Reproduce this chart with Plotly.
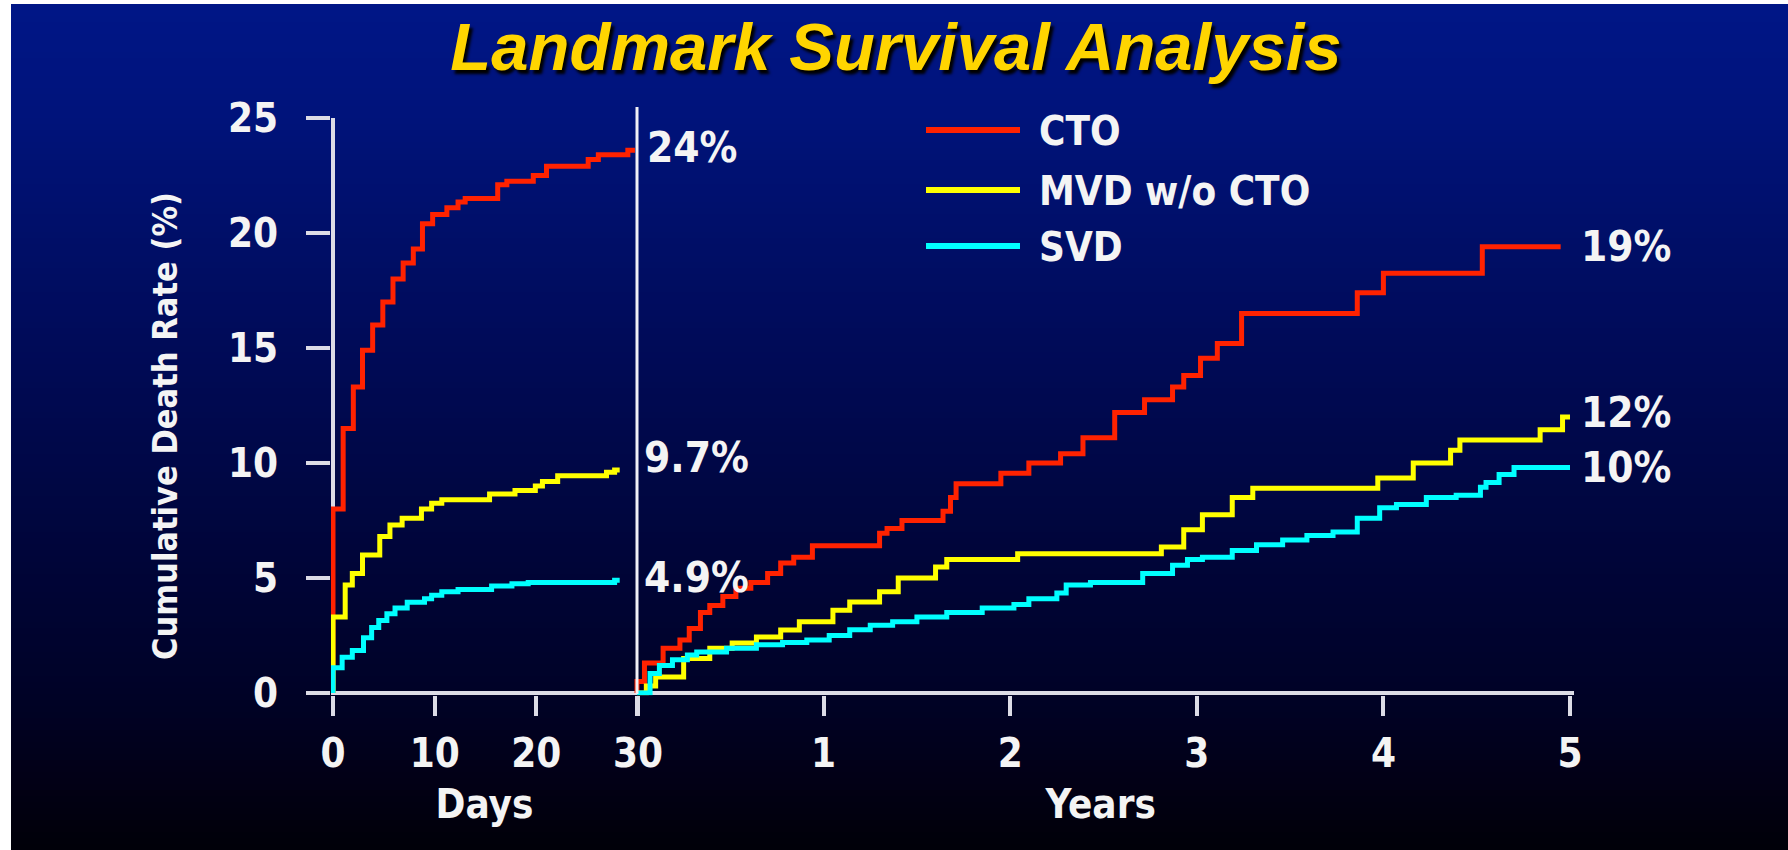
import plotly.graph_objects as go

# ---------------- data: cumulative death rate (%) ----------------
# First 30 days (landmark 1)
days_cto_t = [0, 0, 1.0, 2.0, 2.9, 3.9, 4.9, 5.9, 6.9, 7.9, 8.8, 9.8, 11.2, 12.3, 13.0,
              16.2, 17.1, 19.7, 21.0, 25.1, 26.1, 29.0, 29.7]
days_cto_v = [0, 8.0, 11.5, 13.3, 14.9, 16.0, 17.0, 18.0, 18.7, 19.3, 20.4, 20.8, 21.1, 21.35, 21.5,
              22.1, 22.25, 22.5, 22.9, 23.2, 23.4, 23.6, 23.6]

days_mvd_t = [0, 0, 1.2, 1.9, 2.9, 4.6, 5.6, 6.8, 8.7, 9.7, 10.7, 15.4, 17.9, 19.9, 20.6,
              22.1, 26.9, 27.7, 28.2]
days_mvd_v = [0, 3.3, 4.7, 5.2, 6.0, 6.8, 7.3, 7.6, 8.0, 8.25, 8.4, 8.65, 8.8, 9.0, 9.2,
              9.45, 9.6, 9.7, 9.7]

days_svd_t = [0, 0, 0.9, 1.9, 3.0, 3.8, 4.5, 5.3, 6.1, 7.3, 9.0, 9.7, 10.7, 12.3, 15.6,
              17.6, 19.2, 27.7, 28.2]
days_svd_v = [0, 1.1, 1.55, 1.85, 2.4, 2.85, 3.15, 3.45, 3.7, 3.95, 4.1, 4.25, 4.4, 4.5, 4.65,
              4.75, 4.8, 4.9, 4.9]

# 30 days to 5 years (landmark 2)
years_cto_t = [0, 0, 0.04, 0.14, 0.23, 0.28, 0.34, 0.39, 0.46, 0.53, 0.61, 0.70, 0.77, 0.84,
               0.94, 1.30, 1.34, 1.42, 1.64, 1.68, 1.71, 1.95, 2.10, 2.27, 2.39, 2.56, 2.72,
               2.87, 2.93, 3.02, 3.11, 3.24, 3.86, 4.00, 4.53, 4.95]
years_cto_v = [0, 0.5, 1.3, 1.95, 2.3, 2.8, 3.5, 3.8, 4.2, 4.55, 4.8, 5.2, 5.65, 5.9,
               6.4, 6.95, 7.15, 7.5, 7.9, 8.5, 9.1, 9.55, 10.0, 10.4, 11.1, 12.2, 12.75,
               13.3, 13.8, 14.55, 15.2, 16.5, 17.4, 18.25, 19.4, 19.4]

years_mvd_t = [0, 0.05, 0.10, 0.25, 0.39, 0.51, 0.64, 0.77, 0.87, 1.05, 1.14, 1.30, 1.40,
               1.60, 1.66, 2.04, 2.81, 2.93, 3.03, 3.19, 3.30, 3.97, 4.16, 4.36, 4.41, 4.84,
               4.96, 5.0]
years_mvd_v = [0, 0.3, 0.7, 1.5, 1.95, 2.17, 2.43, 2.74, 3.1, 3.6, 3.96, 4.4, 5.0,
               5.48, 5.8, 6.05, 6.35, 7.1, 7.75, 8.5, 8.9, 9.35, 10.0, 10.55, 11.0, 11.45,
               12.0, 12.0]

years_svd_t = [0, 0.07, 0.12, 0.19, 0.27, 0.32, 0.48, 0.64, 0.78, 0.91, 1.03, 1.14, 1.25,
               1.37, 1.50, 1.66, 1.85, 2.02, 2.10, 2.25, 2.30, 2.43, 2.71, 2.87, 2.95, 3.03,
               3.19, 3.32, 3.46, 3.59, 3.73, 3.86, 3.98, 4.07, 4.23, 4.39, 4.52, 4.55, 4.62,
               4.70, 5.0]
years_svd_v = [0, 0.85, 1.2, 1.45, 1.65, 1.78, 1.95, 2.1, 2.2, 2.3, 2.5, 2.75, 2.95,
               3.1, 3.3, 3.5, 3.7, 3.85, 4.1, 4.35, 4.7, 4.8, 5.2, 5.55, 5.8, 5.9,
               6.2, 6.45, 6.65, 6.85, 7.0, 7.6, 8.05, 8.2, 8.5, 8.6, 8.95, 9.15, 9.5,
               9.8, 9.8]

groups = ["CTO", "MVD w/o CTO", "SVD"]
colors = ["#FF2200", "#FFFF00", "#00FFFF"]

y_ticks = [0, 5, 10, 15, 20, 25]
day_ticks = [0, 10, 20, 30]
year_ticks = [0, 1, 2, 3, 4, 5]
year_tick_text = ["", "1", "2", "3", "4", "5"]

# ---------------- page geometry (pixels) ----------------
W, H = 1788, 850
def px(x):
    return x / W
def py(y):
    return 1 - y / H

NARROW = "DejaVu Sans Condensed, DejaVu Sans, sans-serif"
AXIS_COL = "#DCDCE6"
TEXT_COL = "#F4F4F4"

fig = go.Figure()

series = [
    (days_cto_t, days_cto_v, years_cto_t, years_cto_v, 0),
    (days_mvd_t, days_mvd_v, years_mvd_t, years_mvd_v, 1),
    (days_svd_t, days_svd_v, years_svd_t, years_svd_v, 2),
]
for dt, dv, yt, yv, i in series:
    fig.add_trace(go.Scatter(x=dt, y=dv, mode="lines", line_shape="hv",
                             line=dict(color=colors[i], width=5),
                             name=groups[i], showlegend=False,
                             xaxis="x", yaxis="y", hoverinfo="skip"))
    fig.add_trace(go.Scatter(x=yt, y=yv, mode="lines", line_shape="hv",
                             line=dict(color=colors[i], width=5),
                             name=groups[i], showlegend=False,
                             xaxis="x2", yaxis="y", hoverinfo="skip"))

# ---------------- background gradient ----------------
stops = [(0, (0, 22, 135)), (120, (0, 19, 122)), (250, (0, 14, 102)), (400, (0, 9, 80)),
         (550, (0, 5, 58)), (700, (0, 2, 38)), (780, (2, 0, 22)), (850, (0, 0, 8))]
def grad(y):
    for (y0, c0), (y1, c1) in zip(stops[:-1], stops[1:]):
        if y0 <= y <= y1:
            f = (y - y0) / (y1 - y0)
            return tuple(round(a + (b - a) * f) for a, b in zip(c0, c1))
    return stops[-1][1]

shapes = []
step = 6
for y in range(4, H, step):
    c = grad(y + step / 2)
    shapes.append(dict(type="rect", xref="paper", yref="paper", layer="below",
                       x0=px(11), x1=1, y0=max(py(y + step + 1), 0), y1=py(y),
                       line=dict(width=0), fillcolor="rgb(%d,%d,%d)" % c))

# divider between the two landmark periods
shapes.append(dict(type="line", xref="x2", yref="paper", x0=0, x1=0,
                   y0=py(694), y1=py(107), line=dict(color="#F0F0F6", width=3), layer="above"))

# legend samples
legend_y = [130, 190, 246]
for i, ly in enumerate(legend_y):
    shapes.append(dict(type="line", xref="paper", yref="paper", x0=px(926), x1=px(1020),
                       y0=py(ly), y1=py(ly), line=dict(color=colors[i], width=6), layer="above"))

annotations = []
legend_font = dict(family=NARROW, size=40, color=TEXT_COL, weight="bold")
for i, ly in enumerate(legend_y):
    annotations.append(dict(xref="paper", yref="paper", x=px(1038), y=py(ly + 1), text=groups[i],
                            showarrow=False, xanchor="left", yanchor="middle",
                            borderpad=0, font=legend_font))

# end-of-curve percentages
label_font = dict(family=NARROW, size=42, color=TEXT_COL, weight="bold")
end_labels = [
    ("x", days_cto_v[-1], 0, 30, 8, 3),
    ("x", days_mvd_v[-1], 1, 30, 5, 12),
    ("x", days_svd_v[-1], 1, 30, 5, 3),
    ("x2", years_cto_v[-1], 0, 5, 10, 0),
    ("x2", years_mvd_v[-1], 0, 5, 10, 5),
    ("x2", years_svd_v[-1], 0, 5, 10, 0),
]
for xr, v, dec, xpos, xs, ys in end_labels:
    annotations.append(dict(xref=xr, yref="y", x=xpos, y=v, text=f"{v:.{dec}f}%",
                            showarrow=False, xanchor="left", yanchor="middle",
                            borderpad=0, xshift=xs, yshift=ys, font=label_font))

annotations.append(dict(xref="paper", yref="paper", x=px(165), y=py(426),
                        text="Cumulative Death Rate (%)", textangle=-90, showarrow=False,
                        xanchor="center", yanchor="middle", borderpad=0,
                        font=dict(family=NARROW, size=34, color=TEXT_COL, weight="bold")))

tick_font = dict(family=NARROW, size=40, color=TEXT_COL, weight="bold")
title_font = dict(family=NARROW, size=40, color=TEXT_COL, weight="bold")

fig.update_layout(
    width=W, height=H,
    margin=dict(l=0, r=0, t=0, b=0, autoexpand=False),
    paper_bgcolor="white",
    plot_bgcolor="rgba(0,0,0,0)",
    showlegend=False,
    title=dict(text="Landmark Survival Analysis", x=px(896), xanchor="center",
               y=py(47), yanchor="middle", yref="container",
               font=dict(family="Liberation Sans, Arial, sans-serif", size=67, color="#FFD500",
                         weight="bold", style="italic", shadow="3px 4px 3px #000000")),
    xaxis=dict(domain=[px(333 - 0.2 * 305 / 30), px(638)], range=[-0.2, 30],
               tickvals=day_ticks, ticks="outside", ticklen=20, tickwidth=4, tickcolor=AXIS_COL,
               tickfont=tick_font, ticklabelstandoff=3, automargin=False,
               showgrid=False, showline=False,
               zeroline=True, zerolinecolor=AXIS_COL, zerolinewidth=4,
               title=dict(text="Days", font=title_font, standoff=14),
               anchor="y"),
    xaxis2=dict(domain=[px(637 - 0.05 * 186.6), px(1570 + 0.02 * 186.6)], range=[-0.05, 5.02],
                tickvals=year_ticks, ticktext=year_tick_text, ticks="outside", ticklen=20,
                tickwidth=4, tickcolor=AXIS_COL, tickfont=tick_font, ticklabelstandoff=3,
                automargin=False, showgrid=False, showline=False, zeroline=False,
                title=dict(text="Years", font=title_font, standoff=14),
                anchor="y"),
    yaxis=dict(domain=[py(693 + 0.1 * 23), py(118)], range=[-0.1, 25],
               tickvals=y_ticks, ticks="outside", ticklen=24, tickwidth=4, tickcolor=AXIS_COL,
               tickfont=tick_font, ticklabelstandoff=20, automargin=False,
               showgrid=False, showline=False,
               zeroline=True, zerolinecolor=AXIS_COL, zerolinewidth=4,
               anchor="x"),
    shapes=shapes,
    annotations=annotations,
)

fig.write_html("out.html")
